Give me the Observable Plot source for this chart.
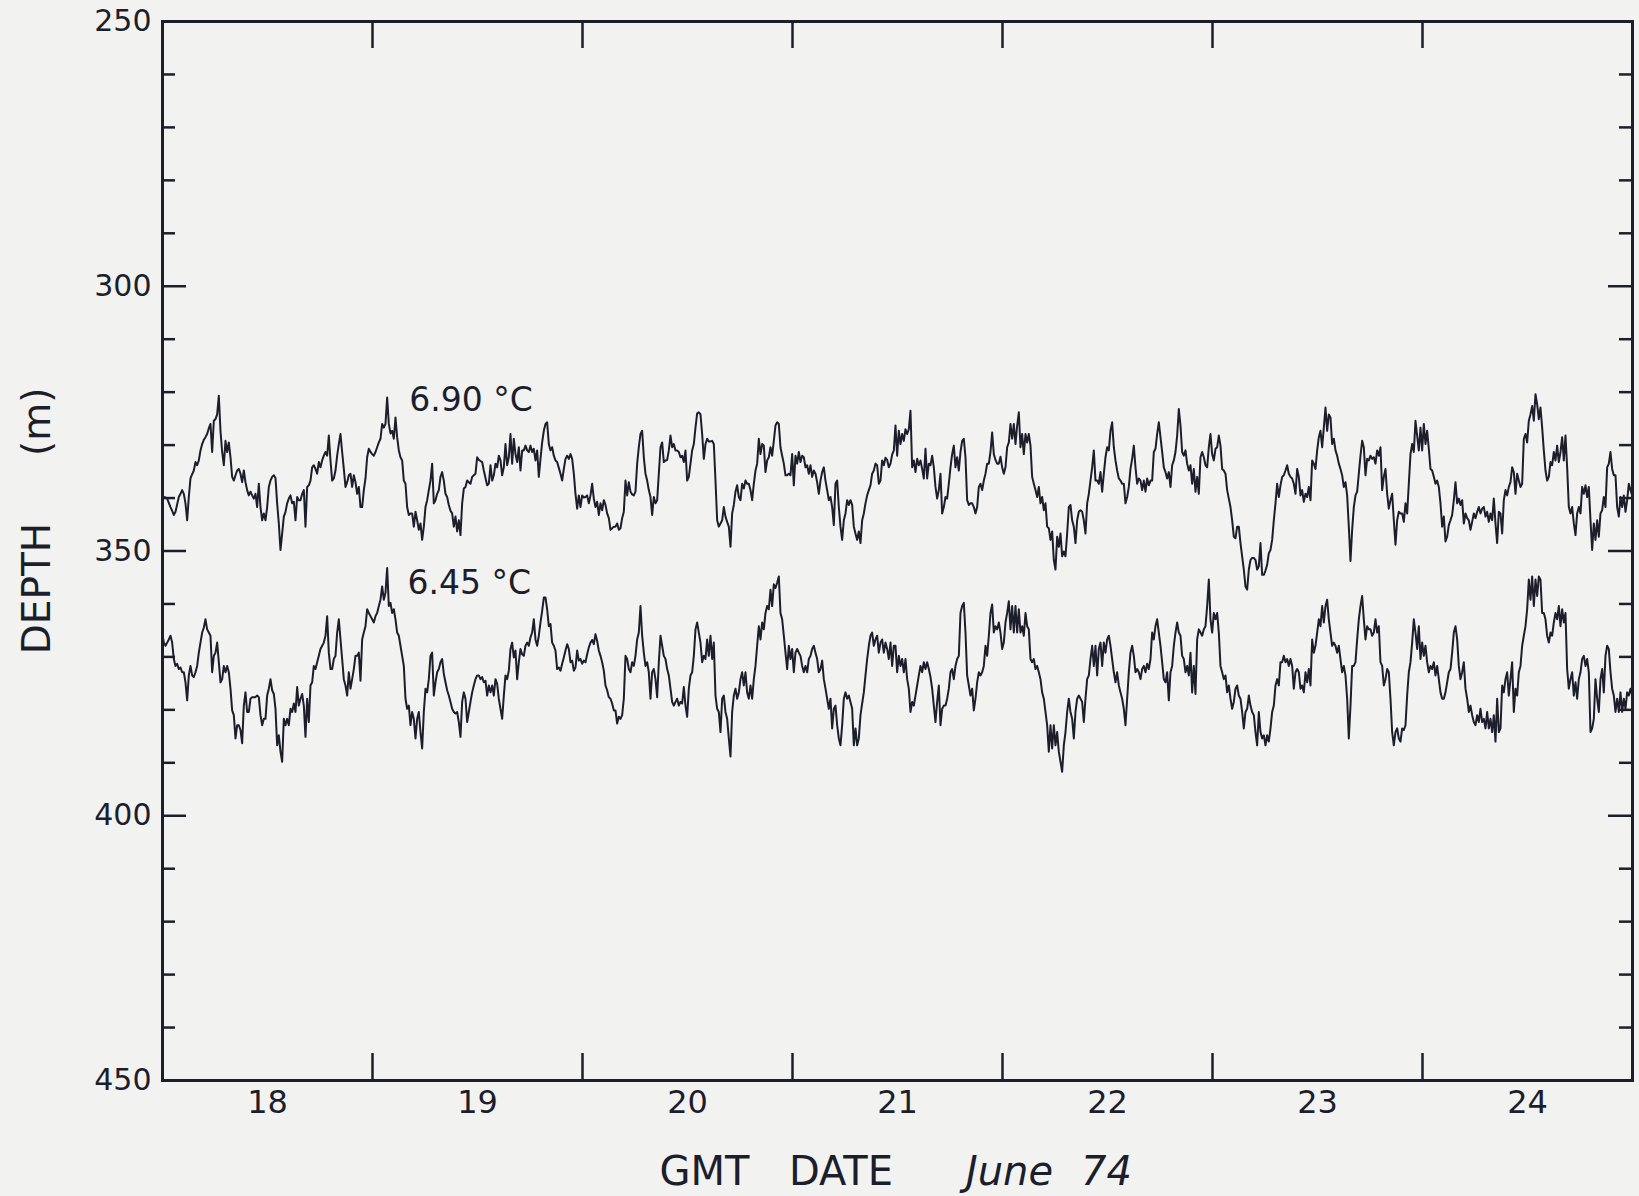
<!DOCTYPE html>
<html>
<head>
<meta charset="utf-8">
<script src="https://cdn.jsdelivr.net/npm/d3@7"></script>
<script src="https://cdn.jsdelivr.net/npm/@observablehq/plot@0.6"></script>
<style>
  html, body { margin: 0; padding: 0; background: #f2f2f0; }
  #chart { width: 1639px; height: 1196px; }
</style>
</head>
<body>
<div id="chart"></div>
<script>
// ---- axis definitions ----
const depthDomain = [250, 450];
const depthMajorTicks = [250, 300, 350, 400, 450];
const depthMinorTicks = [260, 270, 280, 290, 310, 320, 330, 340, 360, 370, 380, 390, 410, 420, 430, 440];
const dayLabels = [18, 19, 20, 21, 22, 23, 24];
const dayBoundaries = [19, 20, 21, 22, 23, 24];
const firstDay = 18, lastDay = 25; // June 1974, GMT

// ---- series: depth (m) of isotherms, samples every 28/147 h, segments start at given hours after 18 June 00:00 GMT ----
const segmentStartHours = [-0.23, 27.77, 55.77, 83.77, 111.77, 139.77];
const sampleStepHours = 28 / 147;

// 6.90 °C isotherm
const d690_0 = [339.2,339.5,339.8,339.9,340.1,340.9,341.7,342.4,343.2,342.6,
341.2,339.8,339.2,338.5,339.2,341.0,344.2,339.8,336.3,335.5,
334.8,333.2,333.8,332.9,331.0,329.8,329.0,328.5,327.9,326.8,
326.0,331.3,325.4,325.1,324.2,320.7,327.3,331.3,333.8,329.2,
331.3,329.5,332.3,336.0,336.7,335.7,334.8,334.5,335.4,337.0,
334.8,337.0,338.5,339.5,338.8,339.5,340.1,339.2,341.7,337.3,
341.7,344.2,342.9,344.2,341.7,337.9,336.7,336.0,335.7,336.2,
341.0,344.8,349.8,346.7,343.5,342.6,341.0,340.1,339.5,341.0,
340.7,344.2,339.8,340.4,340.4,339.2,338.5,345.4,337.9,337.6,
336.7,334.2,333.8,334.5,335.4,333.2,334.2,332.9,332.0,331.3,
332.0,328.2,332.9,336.7,336.3,334.8,332.0,329.8,327.9,331.3,
334.5,337.9,337.0,335.7,335.4,337.9,335.7,337.0,339.2,337.9,
341.7,341.7,338.5,336.3,332.3,330.7,331.3,331.7,332.0,331.3,
330.4,329.5,328.8,326.0,326.7,326.0,321.0,326.0,327.8,327.3,
328.8,324.8,328.5,331.0,332.3,332.9,336.7];
const d690_1 = [337.3,341.7,343.2,342.9,342.9,345.4,342.6,344.2,346.0,344.8,
347.9,345.4,341.7,340.4,338.5,336.7,333.5,341.0,340.4,339.2,
338.5,336.0,335.1,336.7,339.2,339.8,341.3,342.4,342.9,345.4,
343.5,346.3,344.2,347.0,341.0,338.2,337.9,336.7,337.0,337.3,
336.0,335.7,335.4,332.3,332.8,333.0,333.2,334.8,336.2,337.6,
337.3,333.8,336.7,335.7,333.5,334.2,332.0,332.9,335.7,334.2,
329.8,333.8,332.3,327.9,333.5,328.8,331.7,333.2,330.4,334.8,
331.0,331.0,330.1,331.0,331.3,330.1,331.3,330.7,332.9,331.0,
336.0,332.6,329.5,327.3,326.0,325.7,329.8,331.0,330.4,332.0,
332.9,333.2,334.3,335.4,336.7,334.5,332.6,332.0,332.6,331.7,
332.6,335.4,339.2,342.0,339.5,341.7,339.5,339.9,339.8,339.5,
341.0,339.5,337.3,340.1,341.7,340.7,343.2,341.0,342.3,340.4,
341.3,342.9,343.8,346.0,345.7,345.4,345.4,344.8,346.0,345.7,
343.8,342.6,336.7,339.5,337.0,338.8,339.3,339.5,338.8,333.5,
330.4,327.9,327.3,332.3,335.4,336.7,338.5];
const d690_2 = [339.8,343.2,339.8,341.0,340.4,335.4,330.4,329.5,333.2,332.9,
332.8,331.0,328.2,330.4,329.8,331.0,331.0,331.3,332.3,332.0,
333.2,331.0,336.7,336.0,333.5,331.0,329.8,326.7,324.0,323.8,
324.2,327.9,332.6,329.8,328.8,329.3,329.3,329.2,329.8,336.7,
344.2,345.4,344.8,344.2,341.7,343.5,344.5,345.4,349.2,342.9,
341.3,338.8,337.6,339.8,340.4,337.3,338.2,336.7,337.3,337.3,
338.5,340.4,337.3,334.8,333.5,328.8,331.7,329.8,330.1,335.1,
332.9,332.3,330.4,332.0,329.2,326.3,325.7,326.0,330.4,332.0,
333.5,335.7,335.7,335.4,335.7,331.7,337.6,332.0,333.5,331.3,
333.2,332.0,332.3,334.2,333.8,335.4,333.8,336.0,334.8,335.4,
337.0,339.2,336.7,335.1,334.2,336.7,338.5,340.4,339.8,341.7,
345.1,337.3,336.7,341.7,345.4,347.9,344.2,342.9,340.4,341.3,
340.4,341.3,345.4,346.7,347.9,346.3,348.5,344.2,342.9,341.0,
339.5,338.5,337.6,335.4,334.8,333.5,333.8,337.3,336.7,332.9,
333.8,332.4,332.8,334.2,333.5,331.8,331.0];
const d690_3 = [326.3,332.0,327.3,329.8,327.9,329.2,327.0,327.9,327.0,323.5,
334.2,332.9,335.1,332.6,333.8,332.9,334.5,336.3,330.7,336.3,
333.5,333.8,332.0,334.2,337.9,340.1,338.5,335.4,342.9,341.7,
339.8,340.1,337.3,334.2,331.7,330.1,334.2,332.3,334.8,331.3,
329.2,328.8,332.3,340.4,341.3,341.0,341.0,341.7,342.9,341.7,
337.9,337.3,338.5,336.7,335.4,333.5,333.5,331.3,327.6,331.7,
332.8,333.5,333.5,332.2,334.2,335.4,334.2,330.4,329.5,326.0,
328.8,326.0,329.8,326.3,323.8,330.4,327.9,331.7,327.9,329.5,
327.9,330.1,336.0,337.3,338.5,339.8,337.9,341.0,339.8,342.3,
341.0,345.4,345.7,347.9,346.3,351.7,353.5,347.3,349.2,346.7,
351.0,350.1,351.0,346.7,341.7,341.3,344.2,345.4,348.5,344.2,
342.6,342.3,342.6,344.2,346.7,341.0,339.2,336.7,334.2,331.0,
336.7,336.7,337.3,335.1,338.8,335.4,332.3,330.4,331.0,327.3,
325.7,330.4,332.9,334.8,336.3,336.7,337.3,337.3,341.0,339.8,
337.9,334.5,332.6,330.1,334.2,337.3,336.3];
const d690_4 = [336.7,338.5,336.7,338.8,336.3,337.6,336.7,336.7,331.3,330.7,
327.9,325.7,328.5,331.3,334.2,335.1,336.3,335.1,337.9,333.8,
332.9,331.3,328.2,323.2,326.3,331.3,332.0,331.0,333.5,334.8,
333.8,337.3,334.5,338.8,336.0,339.2,332.3,331.3,332.3,333.8,
334.2,330.4,327.9,331.7,332.9,330.7,330.4,328.2,330.1,334.5,
334.8,335.4,338.5,340.1,341.7,344.2,347.3,347.6,345.4,345.4,
348.5,351.0,353.5,356.7,357.3,353.5,351.7,351.3,351.3,351.7,
353.5,352.9,348.5,354.5,354.5,353.7,352.6,350.4,349.8,347.9,
344.2,341.0,337.3,339.8,337.6,336.0,335.7,334.8,333.8,335.4,
336.0,336.3,337.3,339.2,334.5,336.0,339.5,338.5,340.7,339.2,
339.8,337.9,340.4,332.9,333.5,334.5,331.0,328.5,327.3,330.4,
326.7,322.9,327.3,324.2,324.8,329.8,328.8,331.0,332.0,333.5,
334.5,335.7,337.9,337.0,339.5,345.4,351.9,346.0,341.7,339.5,
338.8,335.4,332.0,329.2,330.4,335.7,332.6,332.9,332.0,332.6,
332.3,333.5,331.0,332.0,330.4,338.5,336.0];
const d690_5 = [334.5,339.2,342.0,340.4,339.2,344.2,348.8,344.2,342.6,342.9,
342.9,344.5,341.0,342.9,337.3,331.7,329.8,331.3,325.4,328.2,
331.0,326.7,331.0,326.0,329.8,327.3,330.7,334.5,334.8,336.0,
337.3,336.7,337.9,341.0,345.4,343.5,348.2,347.3,345.1,344.2,
343.2,340.4,337.0,341.0,340.1,341.3,340.4,344.8,342.9,343.8,
344.2,346.0,344.5,342.9,343.8,342.6,341.7,342.9,342.0,341.7,
343.5,342.6,344.5,342.9,344.2,340.1,344.8,348.5,342.6,342.9,
346.7,340.4,338.5,339.5,337.9,337.0,334.2,335.1,339.2,335.4,
336.7,337.9,337.3,328.8,327.9,329.5,325.4,324.2,322.6,325.4,
320.4,322.3,325.1,322.9,326.7,331.0,334.8,336.7,336.0,333.2,
333.8,331.3,332.9,330.1,333.2,331.3,328.5,332.9,328.2,334.2,
341.7,342.9,341.7,344.8,347.0,342.9,341.7,342.9,337.9,339.2,
337.6,339.8,337.9,344.2,349.8,344.8,347.9,344.2,347.3,342.9,
342.3,339.8,341.7,334.2,333.5,331.3,334.5,335.7,335.7,341.7,
343.5,339.8,341.7,339.5,342.6,340.4,337.3,338.5,339.5];

// 6.45 °C isotherm
const d645_0 = [366.7,365.4,367.3,367.9,367.3,366.7,366.0,367.3,370.4,371.7,
371.3,372.3,372.0,372.9,372.9,374.8,378.2,373.5,371.7,373.5,
373.8,372.9,371.7,369.2,367.3,365.4,364.5,362.9,364.8,365.4,
366.0,372.9,369.8,369.2,367.3,371.0,374.8,374.2,371.7,372.9,
371.7,372.9,376.0,380.1,381.0,385.4,382.9,382.9,383.8,386.3,
379.2,376.7,380.4,380.4,377.9,377.6,377.6,377.6,377.3,377.6,
381.0,382.9,381.7,381.7,377.3,376.0,374.2,376.3,377.0,379.8,
386.7,384.8,387.9,389.8,381.7,382.9,381.7,382.9,379.8,380.4,
378.8,380.4,375.7,379.2,377.9,377.0,379.2,385.1,377.9,382.3,
375.4,374.8,371.7,372.3,371.0,369.8,368.5,367.9,367.3,366.0,
362.3,369.2,372.3,372.3,370.4,369.8,365.4,362.9,366.7,370.4,
374.2,375.4,377.3,372.9,376.0,374.2,372.3,369.8,369.8,369.2,
374.5,366.7,365.4,364.2,361.0,361.7,362.3,362.9,363.5,362.3,
361.7,360.4,359.2,356.7,359.2,357.9,353.2,360.4,359.8,361.7,
361.0,362.9,365.4,366.0,367.9,369.8,371.7];
const d645_1 = [377.9,379.8,379.2,382.9,380.4,381.7,385.4,381.7,380.4,384.2,
387.3,380.4,376.0,376.7,374.2,369.8,369.2,377.3,374.8,372.9,
372.3,371.0,370.4,373.2,374.8,376.3,377.3,378.5,379.8,380.4,
380.7,380.4,382.3,385.1,378.5,376.7,377.9,382.3,380.4,378.5,
376.7,375.4,374.2,373.5,373.5,374.2,373.8,374.8,374.5,377.3,
375.4,376.7,375.4,377.3,374.2,375.1,377.9,379.8,381.7,377.3,
373.5,374.2,372.6,368.5,367.3,370.1,368.8,374.2,371.0,368.5,
369.5,369.8,367.9,367.3,367.9,366.3,365.4,362.9,366.7,367.9,
366.0,363.5,361.3,358.8,358.8,361.0,364.2,363.8,367.3,367.9,
368.8,372.3,372.0,372.6,371.3,370.1,368.8,367.6,368.5,371.0,
370.7,372.6,372.0,368.8,370.7,370.4,371.3,370.7,371.0,369.5,
368.2,367.3,366.8,367.6,365.7,367.0,368.8,369.8,371.0,372.6,
375.4,376.3,377.6,377.9,378.8,380.1,380.1,382.6,381.3,381.7,
381.0,377.9,369.8,370.4,372.3,372.9,371.0,371.7,369.8,366.7,
365.4,360.4,366.0,369.2,371.7,371.0,372.9];
const d645_2 = [377.9,372.9,372.3,374.2,377.6,371.0,366.0,367.9,369.8,370.4,
372.3,373.5,376.0,378.5,379.2,378.5,377.9,379.2,378.5,378.8,
375.7,379.2,381.3,376.0,373.5,372.9,369.8,364.8,363.5,365.4,
367.3,371.0,369.8,370.4,366.7,369.8,366.0,370.4,367.3,377.3,
379.8,380.4,384.2,377.9,377.3,380.4,381.7,385.4,388.8,380.4,
377.3,376.0,377.9,376.7,374.2,372.9,375.4,372.9,376.7,377.9,
375.4,377.9,374.2,371.7,367.9,364.2,366.7,363.5,364.8,361.7,
360.4,361.0,357.3,360.4,356.3,357.0,356.0,354.8,361.7,362.9,
366.0,369.2,372.3,367.9,370.4,368.5,372.9,369.2,368.5,369.2,
369.8,371.7,372.9,371.7,372.9,370.4,369.8,368.5,367.9,369.2,
370.4,372.9,372.3,370.7,374.2,376.0,377.9,379.8,377.9,383.5,
379.8,379.2,382.9,385.4,386.7,382.9,377.9,376.7,377.9,377.3,
378.5,379.8,386.7,383.5,386.7,385.4,381.0,378.8,376.7,373.5,
370.4,367.9,366.0,365.4,367.9,366.7,366.0,369.2,367.3,366.7,
369.2,367.3,368.5,370.4,367.3,371.7,367.9];
const d645_3 = [367.9,372.9,369.8,371.7,370.4,372.9,370.4,374.2,376.0,380.4,
378.5,379.2,377.3,375.4,373.5,371.7,372.9,371.0,372.3,371.0,
372.3,373.8,376.0,379.2,382.3,378.5,375.4,382.9,379.8,379.2,
379.2,377.9,376.0,372.9,372.3,374.2,371.7,370.4,369.8,361.7,
360.4,359.8,365.4,373.5,375.4,377.3,376.0,380.1,377.9,374.8,
372.9,373.5,372.9,371.7,367.9,369.8,366.0,361.7,360.1,365.4,
364.2,364.8,363.5,365.4,368.5,367.3,363.5,361.7,359.5,364.8,
360.4,365.4,360.4,365.4,361.0,365.4,364.2,366.0,361.7,364.2,
364.8,370.4,371.0,370.4,372.3,371.7,372.9,374.2,376.7,377.9,
380.4,382.9,387.9,382.9,387.3,382.9,386.7,384.2,387.9,389.8,
391.7,386.7,384.2,380.4,377.9,380.4,381.7,385.4,380.4,377.9,
377.3,377.9,378.5,382.3,377.9,374.2,373.5,370.4,367.9,371.7,
367.9,373.5,368.5,367.3,371.7,367.3,369.2,366.7,366.0,367.9,
370.4,372.9,374.8,372.9,375.4,376.7,377.9,379.8,382.9,377.9,
372.9,369.2,367.9,369.8,372.9,372.3,372.9];
const d645_4 = [374.2,372.3,371.7,372.9,371.3,372.3,370.4,365.4,366.7,364.2,
362.9,365.4,367.9,371.0,374.2,374.8,372.9,378.2,372.9,371.7,
367.9,365.4,363.5,365.4,366.0,369.8,370.4,372.9,371.7,373.5,
369.2,376.7,371.7,377.0,366.7,364.8,365.4,366.0,364.8,364.2,
360.4,355.4,362.9,365.4,361.7,362.9,361.7,365.4,371.7,372.9,
374.2,373.5,376.7,375.4,377.9,379.8,378.5,376.0,375.4,377.3,
377.9,380.4,383.5,380.4,379.8,377.3,379.2,380.4,381.0,384.2,
386.7,380.4,384.2,385.4,384.8,386.7,384.8,386.0,383.5,380.4,
379.2,375.4,374.2,375.4,371.0,371.0,369.8,371.0,370.4,371.7,
370.4,371.7,376.0,372.9,372.3,372.9,376.0,375.4,376.7,372.9,
374.8,372.3,375.4,366.7,369.2,367.9,365.4,362.9,364.2,360.4,
363.5,360.4,359.2,362.9,365.4,367.9,367.3,367.9,369.2,367.9,
370.4,372.9,371.7,373.5,377.9,385.4,379.2,371.7,371.7,371.0,
366.7,362.9,360.4,358.5,362.9,366.7,364.2,364.8,364.8,366.0,
365.4,362.9,365.4,364.2,371.0,371.7,375.4];
const d645_5 = [374.2,372.3,372.9,377.9,384.2,386.7,384.2,383.5,385.4,386.0,
383.5,383.8,382.9,377.3,372.9,371.0,367.3,362.9,365.4,368.5,
364.2,370.4,367.3,369.8,367.9,371.0,372.9,371.7,372.3,371.0,
373.5,371.7,374.2,376.7,377.9,377.9,376.7,374.8,372.9,372.3,
369.2,365.4,364.2,366.7,371.7,374.2,372.9,371.0,376.0,377.9,
380.4,379.2,381.0,382.3,382.9,381.0,382.3,379.8,382.3,381.7,
383.5,380.4,383.5,381.7,384.2,381.0,386.0,377.9,384.2,383.5,
375.4,376.7,374.2,372.9,377.3,374.2,371.0,380.4,376.0,377.3,
372.9,371.7,367.9,366.0,364.2,361.0,355.4,359.2,354.8,360.4,
355.4,358.5,354.8,355.4,361.7,361.7,362.9,366.0,367.3,365.4,
366.0,363.5,361.7,362.9,360.4,364.2,361.0,363.5,361.7,372.3,
376.0,374.2,372.9,377.3,374.8,377.9,374.2,372.9,370.4,369.8,
371.7,370.4,372.9,384.2,383.5,381.7,374.2,377.9,380.4,374.2,
372.3,376.7,369.8,367.9,368.5,372.9,376.0,377.3,380.4,377.9,
380.4,376.7,380.4,377.9,379.8,376.7,377.3,376.0,377.3];

// ---- labels ----
const seriesLabels = [
  {label: "6.90 °C", hour: 28.2, depth: 321.6},
  {label: "6.45 °C", hour: 28.0, depth: 356.2}
];
const yAxisTitleWords = [
  {text: "DEPTH", depth: 357.1},
  {text: "(m)", depth: 325.6}
];
const xAxisTitleWords = [
  {text: "GMT", day: 20.581, italic: false},
  {text: "DATE", day: 21.231, italic: false},
  {text: "June", day: 22.033, italic: true},
  {text: "74", day: 22.495, italic: true}
];

// ---- build table ----
const base = Date.UTC(1974, 5, 18);
const toDate = h => new Date(base + h * 3600e3);
const dayDate = d => new Date(Date.UTC(1974, 5, d));
function build(segs, name) {
  const rows = [];
  segs.forEach((seg, k) => seg.forEach((v, j) => rows.push({
    t: toDate(segmentStartHours[k] + j * sampleStepHours), depth: v, series: name
  })));
  return rows;
}
const rows690 = build([d690_0, d690_1, d690_2, d690_3, d690_4, d690_5], "6.90");
const rows645 = build([d645_0, d645_1, d645_2, d645_3, d645_4, d645_5], "6.45");

const W = 1639, H = 1196;
const mL = 162, mR = 7, mT = 21, mB = 116;
const fw = W - mL - mR, fh = H - mT - mB;
const ink = "#1c1e2c";
const font = "'DejaVu Sans', sans-serif";

const chart = Plot.plot({
  width: W, height: H,
  marginLeft: mL, marginRight: mR, marginTop: mT, marginBottom: mB,
  style: {background: "transparent", fontFamily: font, color: ink},
  x: {type: "utc", domain: [dayDate(firstDay), dayDate(lastDay)], axis: null},
  y: {domain: depthDomain, reverse: true, axis: null},
  marks: [
    // data lines
    Plot.line(rows690, {x: "t", y: "depth", stroke: ink, strokeWidth: 2, clip: true}),
    Plot.line(rows645, {x: "t", y: "depth", stroke: ink, strokeWidth: 2, clip: true}),
    // depth ticks (left & right, inward)
    Plot.tickY(depthMajorTicks.slice(1, -1), {y: d => d, stroke: ink, strokeWidth: 2.5, insetRight: fw - 24}),
    Plot.tickY(depthMinorTicks, {y: d => d, stroke: ink, strokeWidth: 2.5, insetRight: fw - 13}),
    Plot.tickY(depthMajorTicks.slice(1, -1), {y: d => d, stroke: ink, strokeWidth: 2.5, insetLeft: fw - 24}),
    Plot.tickY(depthMinorTicks, {y: d => d, stroke: ink, strokeWidth: 2.5, insetLeft: fw - 13}),
    // day-boundary ticks (top & bottom, inward)
    Plot.tickX(dayBoundaries, {x: d => dayDate(d), stroke: ink, strokeWidth: 2.5, insetTop: fh - 27}),
    Plot.tickX(dayBoundaries, {x: d => dayDate(d), stroke: ink, strokeWidth: 2.5, insetBottom: fh - 27}),
    Plot.frame({stroke: ink, strokeWidth: 3}),
    // depth tick labels
    Plot.text(depthMajorTicks, {y: d => d, frameAnchor: "left", dx: -11, textAnchor: "end", text: d => String(d), fontSize: 30, fill: ink}),
    // day labels
    Plot.text(dayLabels, {x: d => toDate((d - firstDay) * 24 + 12), frameAnchor: "bottom", dy: 32, text: d => String(d), fontSize: 32, fill: ink}),
    // series labels
    Plot.text(seriesLabels, {x: d => toDate(d.hour), y: "depth", text: "label", textAnchor: "start", fontSize: 33, fill: ink}),
    // axis titles
    Plot.text(yAxisTitleWords, {y: "depth", frameAnchor: "left", dx: -125, rotate: -90, textAnchor: "middle", text: "text", fontSize: 39, fill: ink}),
    Plot.text(xAxisTitleWords.filter(d => !d.italic), {x: d => toDate((d.day - firstDay) * 24), frameAnchor: "bottom", dy: 104, text: "text", fontSize: 40, fill: ink}),
    Plot.text(xAxisTitleWords.filter(d => d.italic), {x: d => toDate((d.day - firstDay) * 24), frameAnchor: "bottom", dy: 104, text: "text", fontSize: 40, fontStyle: "italic", fill: ink})
  ]
});
document.getElementById("chart").appendChild(chart);
</script>
</body>
</html>
